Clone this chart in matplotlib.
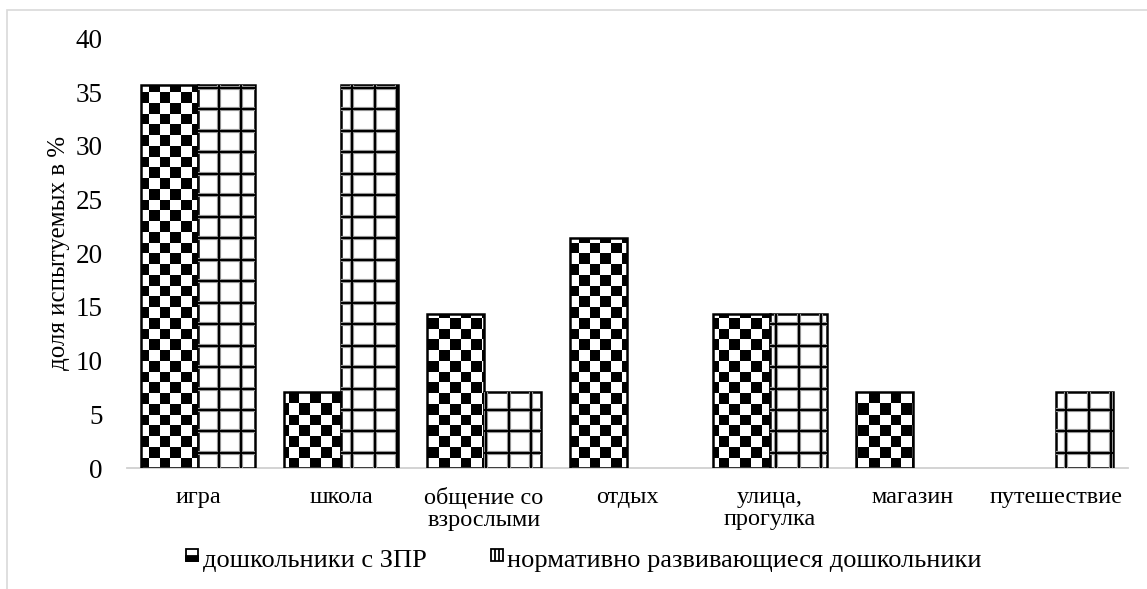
import numpy as np
import matplotlib.pyplot as plt
from matplotlib.patches import Rectangle

# доля испытуемых (%), по 14 детей в группе
categories = ['игра', 'школа', 'общение со\nвзрослыми', 'отдых',
              'улица,\nпрогулка', 'магазин', 'путешествие']
zpr = [35.7, 7.1, 14.3, 21.4, 14.3, 7.1, 0]
norm = [35.7, 35.7, 7.1, 0, 14.3, 0, 7.1]
series_names = ['дошкольники с ЗПР', 'нормативно развивающиеся дошкольники']

plt.rcParams['font.family'] = ['Liberation Serif', 'DejaVu Serif']

W, H = 1147, 589
fig = plt.figure(figsize=(W / 100, H / 100), dpi=100)
ax = fig.add_axes([126.5 / W, (H - 468) / H, 1001 / W, (468 - 38.5) / H])

x = np.arange(len(categories))
bw = 0.4
n = len(categories)
ax.set_xlim(-0.5, n - 0.5)
ax.set_ylim(0, 40)

# шахматная заливка для первой группы (картинка в пикселях области графика)
aw, ah = 1001, 430
yy, xx = np.mgrid[0:ah, 0:aw]
cell = 10.75
checker = (((xx // cell).astype(int) + (yy // cell).astype(int)) % 2).astype(float)

bars1 = ax.bar(x - bw / 2, zpr, bw, facecolor='none', edgecolor='black',
               linewidth=1.8, zorder=3)
for b, v in zip(bars1, zpr):
    if v <= 0:
        b.set_visible(False)
        continue
    im = ax.imshow(checker, cmap='gray', vmin=0, vmax=1, extent=(-0.5, n - 0.5, 0, 40),
                   aspect='auto', interpolation='nearest', zorder=2)
    im.set_clip_path(b)

# клетка для второй группы
bars2 = ax.bar(x + bw / 2, norm, bw, facecolor='white', edgecolor='black',
               linewidth=1.8, zorder=3)
hy = np.arange(1.4, 40, 2.0)
vx = np.arange(-0.5 + 0.02, n, 0.156)
for b, v in zip(bars2, norm):
    if v <= 0:
        b.set_visible(False)
        continue
    for lw, col, z in [(3.0, '#9a9a9a', 3.4), (1.5, 'black', 3.5)]:
        lh = ax.hlines(hy, -0.5, n - 0.5, color=col, linewidth=lw, zorder=z)
        lv = ax.vlines(vx, 0, 40, color=col, linewidth=lw, zorder=z)
        lh.set_clip_path(b)
        lv.set_clip_path(b)

ax.set_xlim(-0.5, n - 0.5)
ax.set_ylim(0, 40)
ax.set_yticks(range(0, 41, 5))
ax.set_xticks(x)
ax.set_xticklabels(categories, fontsize=17.5, linespacing=1.05)
ax.tick_params(axis='both', length=0)
ax.tick_params(axis='y', labelsize=19.5, pad=17)
ax.tick_params(axis='x', pad=14)
for s in ['top', 'right', 'left']:
    ax.spines[s].set_visible(False)
ax.spines['bottom'].set_color('#d0d0d0')
ax.spines['bottom'].set_linewidth(1.3)
ax.set_ylabel('доля испытуемых в %', fontsize=18)
ax.yaxis.set_label_coords((70 - 126.5) / 1001, 0.5)

# рамка диаграммы
fig.patches.append(Rectangle((7 / W, -0.05), 1.1, (H - 10) / H + 0.05,
                             transform=fig.transFigure, fill=False,
                             edgecolor='#d9d9d9', linewidth=1.2))

# легенда
s = 12
ly = (H - 561) / H
fig.patches.append(Rectangle((186 / W, ly), s / W, s / H, transform=fig.transFigure,
                             facecolor='white', edgecolor='black', linewidth=1.3))
fig.patches.append(Rectangle((186 / W, ly), s / W, s / 2.5 / H, transform=fig.transFigure,
                             facecolor='black', edgecolor='black', linewidth=1.3))
fig.text(203 / W, (H - 567) / H, series_names[0], fontsize=19, va='baseline')
fig.patches.append(Rectangle((491 / W, ly), s / W, s / H, transform=fig.transFigure,
                             facecolor='white', edgecolor='black', linewidth=1.3))
for dx in (4, 8):
    fig.patches.append(Rectangle(((491 + dx) / W, ly), 0, s / H, transform=fig.transFigure,
                                 fill=False, edgecolor='black', linewidth=1.3))
fig.text(507 / W, (H - 567) / H, series_names[1], fontsize=19, va='baseline')

fig.savefig('out.png', dpi=100)
